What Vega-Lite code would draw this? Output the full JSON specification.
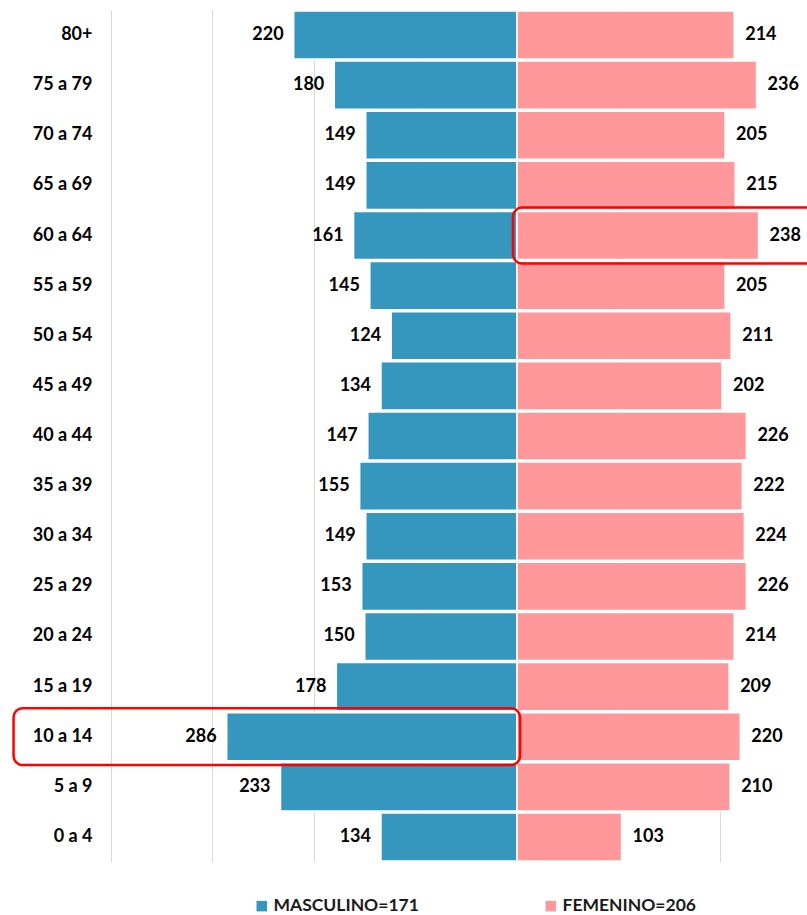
{
  "$schema": "https://vega.github.io/schema/vega-lite/v6.json",
  "width": 702,
  "height": 852,
  "autosize": {"type": "none"},
  "padding": {"left": 105, "top": 10, "right": 0, "bottom": 53},
  "background": "white",
  "config": {
    "view": {"stroke": null},
    "font": "Lato"
  },
  "data": {
    "values": [
      {"edad": "80+", "sexo": "MASCULINO", "valor": 220},
      {"edad": "80+", "sexo": "FEMENINO", "valor": 214},
      {"edad": "75 a 79", "sexo": "MASCULINO", "valor": 180},
      {"edad": "75 a 79", "sexo": "FEMENINO", "valor": 236},
      {"edad": "70 a 74", "sexo": "MASCULINO", "valor": 149},
      {"edad": "70 a 74", "sexo": "FEMENINO", "valor": 205},
      {"edad": "65 a 69", "sexo": "MASCULINO", "valor": 149},
      {"edad": "65 a 69", "sexo": "FEMENINO", "valor": 215},
      {"edad": "60 a 64", "sexo": "MASCULINO", "valor": 161},
      {"edad": "60 a 64", "sexo": "FEMENINO", "valor": 238},
      {"edad": "55 a 59", "sexo": "MASCULINO", "valor": 145},
      {"edad": "55 a 59", "sexo": "FEMENINO", "valor": 205},
      {"edad": "50 a 54", "sexo": "MASCULINO", "valor": 124},
      {"edad": "50 a 54", "sexo": "FEMENINO", "valor": 211},
      {"edad": "45 a 49", "sexo": "MASCULINO", "valor": 134},
      {"edad": "45 a 49", "sexo": "FEMENINO", "valor": 202},
      {"edad": "40 a 44", "sexo": "MASCULINO", "valor": 147},
      {"edad": "40 a 44", "sexo": "FEMENINO", "valor": 226},
      {"edad": "35 a 39", "sexo": "MASCULINO", "valor": 155},
      {"edad": "35 a 39", "sexo": "FEMENINO", "valor": 222},
      {"edad": "30 a 34", "sexo": "MASCULINO", "valor": 149},
      {"edad": "30 a 34", "sexo": "FEMENINO", "valor": 224},
      {"edad": "25 a 29", "sexo": "MASCULINO", "valor": 153},
      {"edad": "25 a 29", "sexo": "FEMENINO", "valor": 226},
      {"edad": "20 a 24", "sexo": "MASCULINO", "valor": 150},
      {"edad": "20 a 24", "sexo": "FEMENINO", "valor": 214},
      {"edad": "15 a 19", "sexo": "MASCULINO", "valor": 178},
      {"edad": "15 a 19", "sexo": "FEMENINO", "valor": 209},
      {"edad": "10 a 14", "sexo": "MASCULINO", "valor": 286},
      {"edad": "10 a 14", "sexo": "FEMENINO", "valor": 220},
      {"edad": "5 a 9", "sexo": "MASCULINO", "valor": 233},
      {"edad": "5 a 9", "sexo": "FEMENINO", "valor": 210},
      {"edad": "0 a 4", "sexo": "MASCULINO", "valor": 134},
      {"edad": "0 a 4", "sexo": "FEMENINO", "valor": 103}
    ]
  },
  "transform": [
    {"calculate": "datum.sexo == 'MASCULINO' ? -datum.valor : datum.valor", "as": "pos"}
  ],
  "encoding": {
    "y": {
      "field": "edad",
      "type": "nominal",
      "sort": ["80+", "75 a 79", "70 a 74", "65 a 69", "60 a 64", "55 a 59", "50 a 54", "45 a 49", "40 a 44", "35 a 39", "30 a 34", "25 a 29", "20 a 24", "15 a 19", "10 a 14", "5 a 9", "0 a 4"],
      "scale": {"paddingInner": 0.04, "paddingOuter": 0.02},
      "axis": {
        "title": null,
        "domain": false,
        "ticks": false,
        "labelAlign": "right",
        "labelPadding": 13,
        "labelFont": "Lato",
        "labelFontWeight": "bold",
        "labelFontSize": 18,
        "labelColor": "#000000"
      }
    }
  },
  "layer": [
    {
      "mark": {"type": "bar", "stroke": "white", "strokeWidth": 1.5},
      "encoding": {
        "x": {
          "field": "pos",
          "type": "quantitative",
          "scale": {"domain": [-405.9, 285.7], "nice": false, "zero": false},
          "axis": {
            "title": null,
            "labels": false,
            "ticks": false,
            "domain": false,
            "values": [-400, -300, -200, -100, 0, 100, 200],
            "grid": true,
            "gridColor": "#D9D9D9",
            "gridWidth": 1
          }
        },
        "x2": {"datum": 0},
        "color": {
          "field": "sexo",
          "type": "nominal",
          "scale": {"domain": ["MASCULINO", "FEMENINO"], "range": ["#3596BE", "#FF989A"]},
          "legend": {
            "title": null,
            "orient": "none",
            "legendX": 148,
            "legendY": 887,
            "direction": "horizontal",
            "symbolType": "square",
            "symbolSize": 110,
            "symbolStrokeWidth": 0,
            "labelFont": "Lato",
            "labelFontWeight": "bold",
            "labelFontSize": 17.5,
            "labelColor": "#1a1a1a",
            "labelOffset": 3,
            "columnPadding": 123,
            "labelExpr": "datum.label == 'MASCULINO' ? 'MASCULINO=171' : 'FEMENINO=206'"
          }
        }
      }
    },
    {
      "transform": [{"filter": "datum.sexo == 'MASCULINO'"}],
      "mark": {"type": "text", "align": "right", "baseline": "middle", "dx": -10, "font": "Lato", "fontWeight": "bold", "fontSize": 18, "color": "#000000"},
      "encoding": {
        "x": {"field": "pos", "type": "quantitative"},
        "text": {"field": "valor", "type": "quantitative"}
      }
    },
    {
      "transform": [{"filter": "datum.sexo == 'FEMENINO'"}],
      "mark": {"type": "text", "align": "left", "baseline": "middle", "dx": 11, "font": "Lato", "fontWeight": "bold", "fontSize": 18, "color": "#000000"},
      "encoding": {
        "x": {"field": "pos", "type": "quantitative"},
        "text": {"field": "valor", "type": "quantitative"}
      }
    },
    {
      "transform": [{"filter": "datum.edad == '10 a 14' && datum.sexo == 'MASCULINO'"}],
      "mark": {"type": "bar", "fill": null, "fillOpacity": 0, "stroke": "#FF0000", "strokeWidth": 2.5, "cornerRadius": 9, "height": {"band": 1.18}},
      "encoding": {
        "x": {"datum": -496},
        "x2": {"datum": 3}
      }
    },
    {
      "transform": [{"filter": "datum.edad == '60 a 64' && datum.sexo == 'FEMENINO'"}],
      "mark": {"type": "bar", "fill": null, "fillOpacity": 0, "stroke": "#FF0000", "strokeWidth": 2.5, "cornerRadius": 9, "height": {"band": 1.16}},
      "encoding": {
        "x": {"datum": -4},
        "x2": {"datum": 300}
      }
    }
  ]
}
